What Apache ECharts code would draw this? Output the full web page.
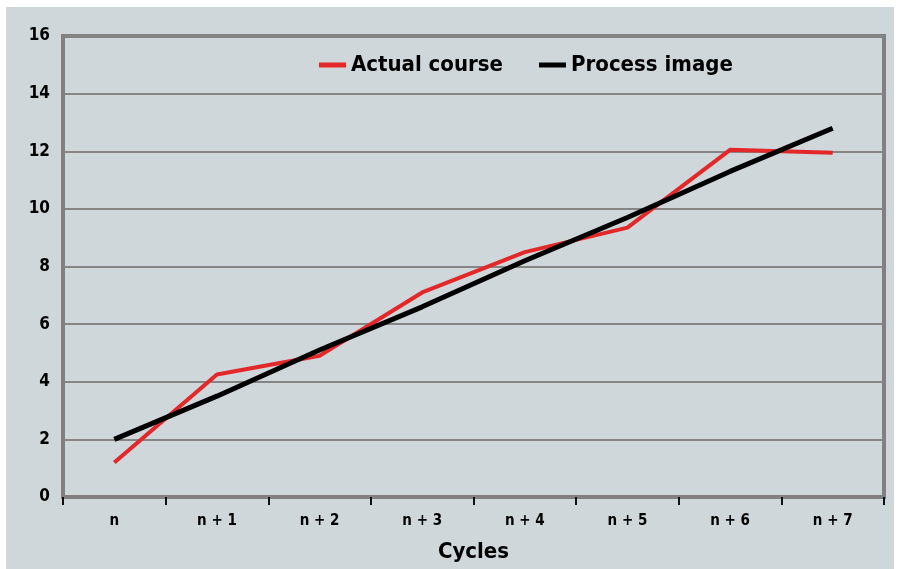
<!DOCTYPE html>
<html>
<head>
<meta charset="utf-8">
<script src="https://cdn.jsdelivr.net/npm/echarts@6/dist/echarts.min.js"></script>
<style>
  html, body { margin: 0; padding: 0; background: #ffffff; }
  #chart { position: absolute; left: 6px; top: 7px; width: 888px; height: 562px; }
</style>
</head>
<body>
<div id="chart"></div>
<script>
// data
var cycles = ['n', 'n + 1', 'n + 2', 'n + 3', 'n + 4', 'n + 5', 'n + 6', 'n + 7'];
var actualCourse = [1.2, 4.25, 4.9, 7.1, 8.5, 9.35, 12.05, 11.95];
var processImage = [2.0, 3.5, 5.1, 6.6, 8.2, 9.7, 11.3, 12.8];
var yTicks = [0, 2, 4, 6, 8, 10, 12, 14, 16];

var font = '"DejaVu Sans Condensed", "Open Sans", sans-serif';

var myChart = echarts.init(document.getElementById('chart'));

var option = {
    backgroundColor: '#cfd7db',
    animation: false,
    textStyle: { fontFamily: font },
    grid: {
        left: 57,
        top: 29,
        right: 10,
        bottom: 72,
        outerBoundsMode: 'none',
        containLabel: false,
        show: true,
        borderColor: '#808080',
        borderWidth: 4,
        backgroundColor: 'transparent'
    },
    legend: {
        data: ['Actual course', 'Process image'],
        left: 308,
        top: 42,
        icon: 'rect',
        itemWidth: 27,
        itemHeight: 5,
        itemGap: 36,
        textStyle: {
            fontFamily: font,
            fontWeight: 'bold',
            fontSize: 22,
            color: '#000'
        }
    },
    xAxis: {
        type: 'category',
        data: cycles,
        boundaryGap: true,
        name: 'Cycles',
        nameLocation: 'middle',
        nameGap: 44,
        nameTextStyle: {
            fontFamily: font,
            fontWeight: 'bold',
            fontSize: 22,
            color: '#000'
        },
        axisLine: { lineStyle: { color: '#808080', width: 4 } },
        axisTick: { show: true, length: 8, lineStyle: { color: '#111', width: 2 } },
        axisLabel: {
            fontFamily: font,
            fontWeight: 'bold',
            fontSize: 15,
            color: '#000',
            margin: 17
        },
        splitLine: { show: false }
    },
    yAxis: {
        type: 'value',
        min: yTicks[0],
        max: yTicks[yTicks.length - 1],
        interval: yTicks[1] - yTicks[0],
        axisLine: { show: true, lineStyle: { color: '#808080', width: 4 } },
        axisTick: { show: false },
        axisLabel: {
            fontFamily: font,
            fontWeight: 'bold',
            fontSize: 17,
            color: '#000',
            margin: 13
        },
        splitLine: { lineStyle: { color: '#858585', width: 2 } }
    },
    series: [
        {
            name: 'Actual course',
            type: 'line',
            data: actualCourse,
            symbol: 'none',
            color: '#e3282a',
            lineStyle: { color: '#e3282a', width: 4 }
        },
        {
            name: 'Process image',
            type: 'line',
            data: processImage,
            symbol: 'none',
            color: '#000000',
            lineStyle: { color: '#000000', width: 5 }
        }
    ]
};

myChart.setOption(option);
</script>
</body>
</html>
